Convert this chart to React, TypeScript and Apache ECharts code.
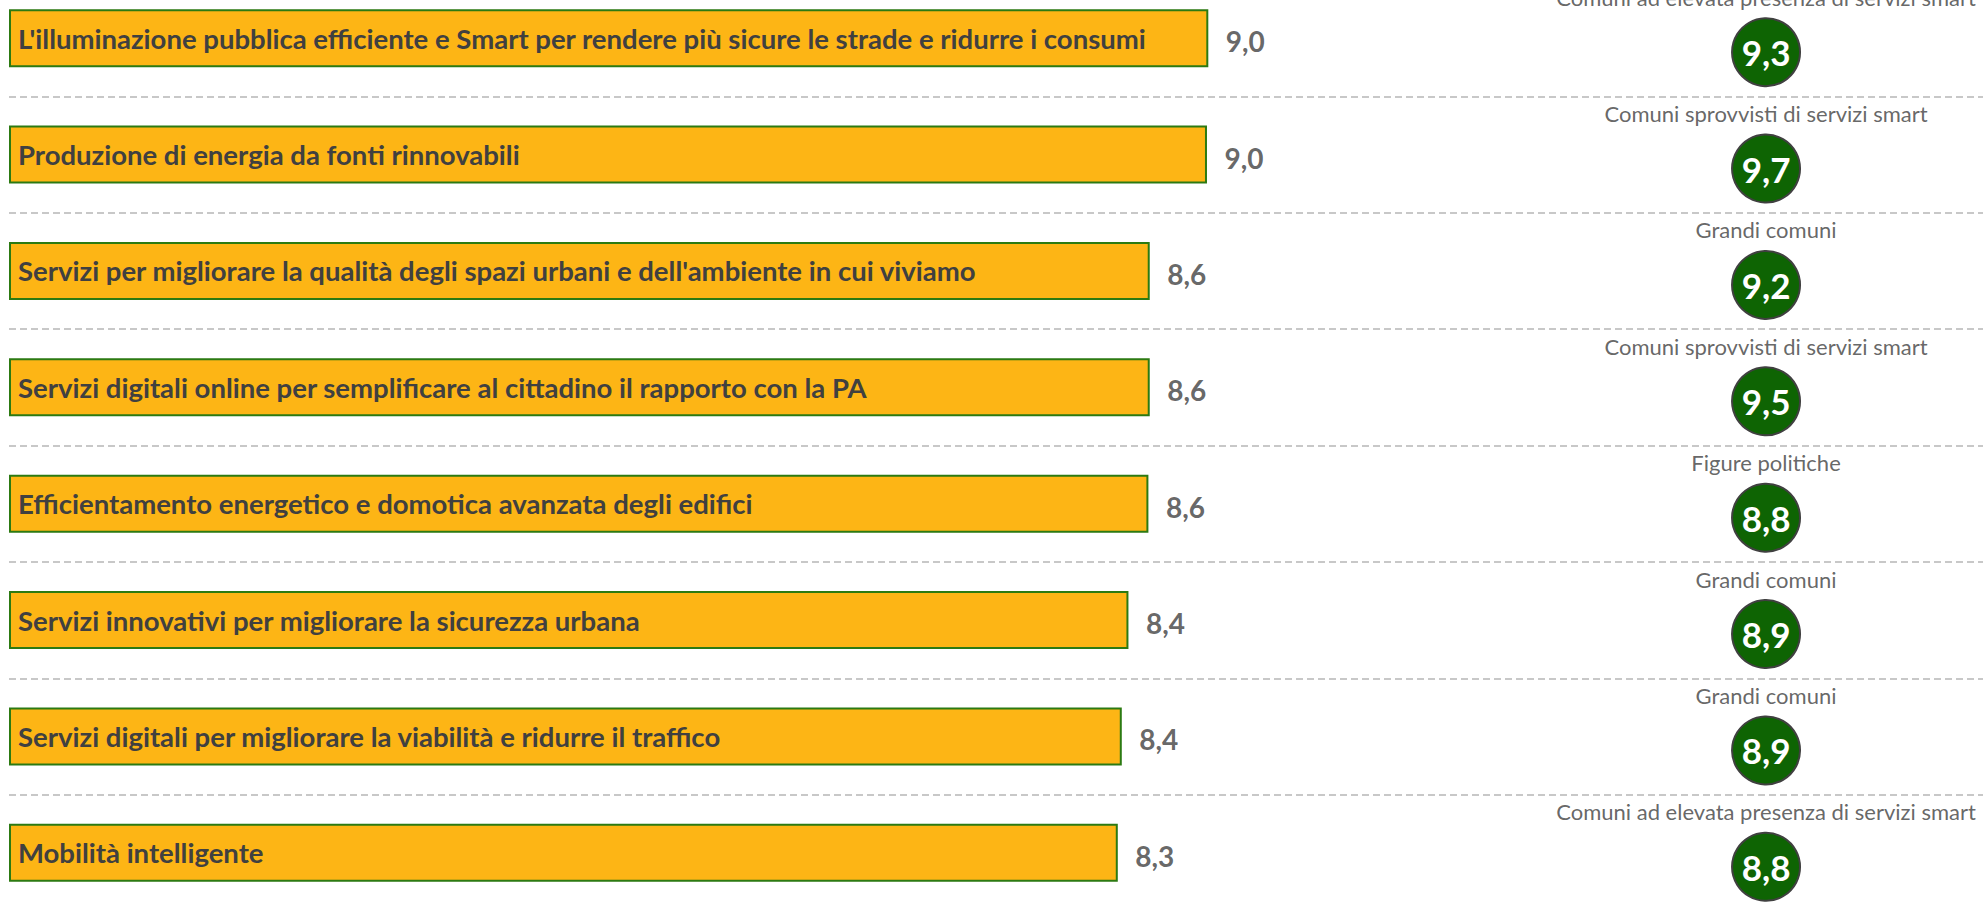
import React, { useEffect, useRef } from "react";
import * as echarts from "echarts";

const categories = [
  "L'illuminazione pubblica efficiente e Smart per rendere più sicure le strade e ridurre i consumi",
  "Produzione di energia da fonti rinnovabili",
  "Servizi per migliorare la qualità degli spazi urbani e dell'ambiente in cui viviamo",
  "Servizi digitali online per semplificare al cittadino il rapporto con la PA",
  "Efficientamento energetico e domotica avanzata degli edifici",
  "Servizi innovativi per migliorare la sicurezza urbana",
  "Servizi digitali per migliorare la viabilità e ridurre il traffico",
  "Mobilità intelligente",
];
const values = [9.01, 9.0, 8.57, 8.57, 8.56, 8.41, 8.36, 8.33];
const topGroups = [
  "Comuni ad elevata presenza di servizi smart",
  "Comuni sprovvisti di servizi smart",
  "Grandi comuni",
  "Comuni sprovvisti di servizi smart",
  "Figure politiche",
  "Grandi comuni",
  "Grandi comuni",
  "Comuni ad elevata presenza di servizi smart",
];
const topValues = [9.3, 9.7, 9.2, 9.5, 8.8, 8.9, 8.9, 8.8];

const FONT = "Lato, 'Noto Sans', sans-serif";
const TEXT = "#404040";
const CIRCLE_X = 13.2;
const fmt = (v: number) => v.toFixed(1).replace(".", ",");

export default function App() {
  const ref = useRef<HTMLDivElement>(null);
  useEffect(() => {
    document.body.style.margin = "0";
    document.body.style.overflow = "hidden";
    const chart = echarts.init(ref.current!, null, { renderer: "svg" });
    chart.setOption({
      animation: false,
      backgroundColor: "#ffffff",
      grid: { left: 9, right: 0, top: 0, bottom: 0 },
      xAxis: { type: "value", min: 0, max: 14.83, show: false },
      yAxis: {
        type: "category",
        inverse: true,
        data: categories,
        axisLine: { show: false },
        axisTick: { show: false },
        axisLabel: { show: false },
        splitLine: {
          show: true,
          lineStyle: { type: [7, 4], color: "#c8c8c8", width: 2 },
        },
      },
      series: [
        {
          type: "bar",
          data: values,
          barWidth: 58,
          itemStyle: { color: "#FDB515", borderColor: "#2C7A12", borderWidth: 2 },
          label: {
            show: true,
            position: "insideLeft",
            distance: 9,
            formatter: "{b}",
            fontFamily: FONT,
            fontWeight: "bold",
            fontSize: 27.5,
            color: TEXT,
          },
        },
        {
          type: "scatter",
          data: values.map((v, i) => [v, i]),
          symbolSize: 1,
          itemStyle: { color: "transparent" },
          label: {
            show: true,
            position: "right",
            distance: 17,
            offset: [0, 3],
            formatter: (p: any) => fmt(p.value[0]),
            fontFamily: FONT,
            fontWeight: "bold",
            fontSize: 28,
            color: TEXT,
          },
        },
        {
          type: "scatter",
          data: topValues.map((v, i) => [CIRCLE_X, i]),
          symbolSize: 68,
          symbolOffset: [0, 14],
          itemStyle: { color: "#0E6403", borderColor: "#404040", borderWidth: 2, opacity: 1 },
          label: {
            show: true,
            position: "inside",
            formatter: (p: any) => fmt(topValues[p.dataIndex]),
            fontFamily: FONT,
            fontWeight: "bold",
            fontSize: 35,
            color: "#ffffff",
          },
          z: 5,
        },
        {
          type: "scatter",
          data: topGroups.map((g, i) => [CIRCLE_X, i]),
          symbolSize: 1,
          itemStyle: { color: "transparent" },
          label: {
            show: true,
            position: "inside",
            offset: [0, -41],
            formatter: (p: any) => topGroups[p.dataIndex],
            fontFamily: FONT,
            fontSize: 22,
            color: TEXT,
          },
        },
      ],
    });
    return () => chart.dispose();
  }, []);
  return (
    <div style={{ width: 1983, height: 909, overflow: "hidden" }}>
      <div ref={ref} style={{ width: 1983, height: 931, marginTop: -20 }} />
    </div>
  );
}
